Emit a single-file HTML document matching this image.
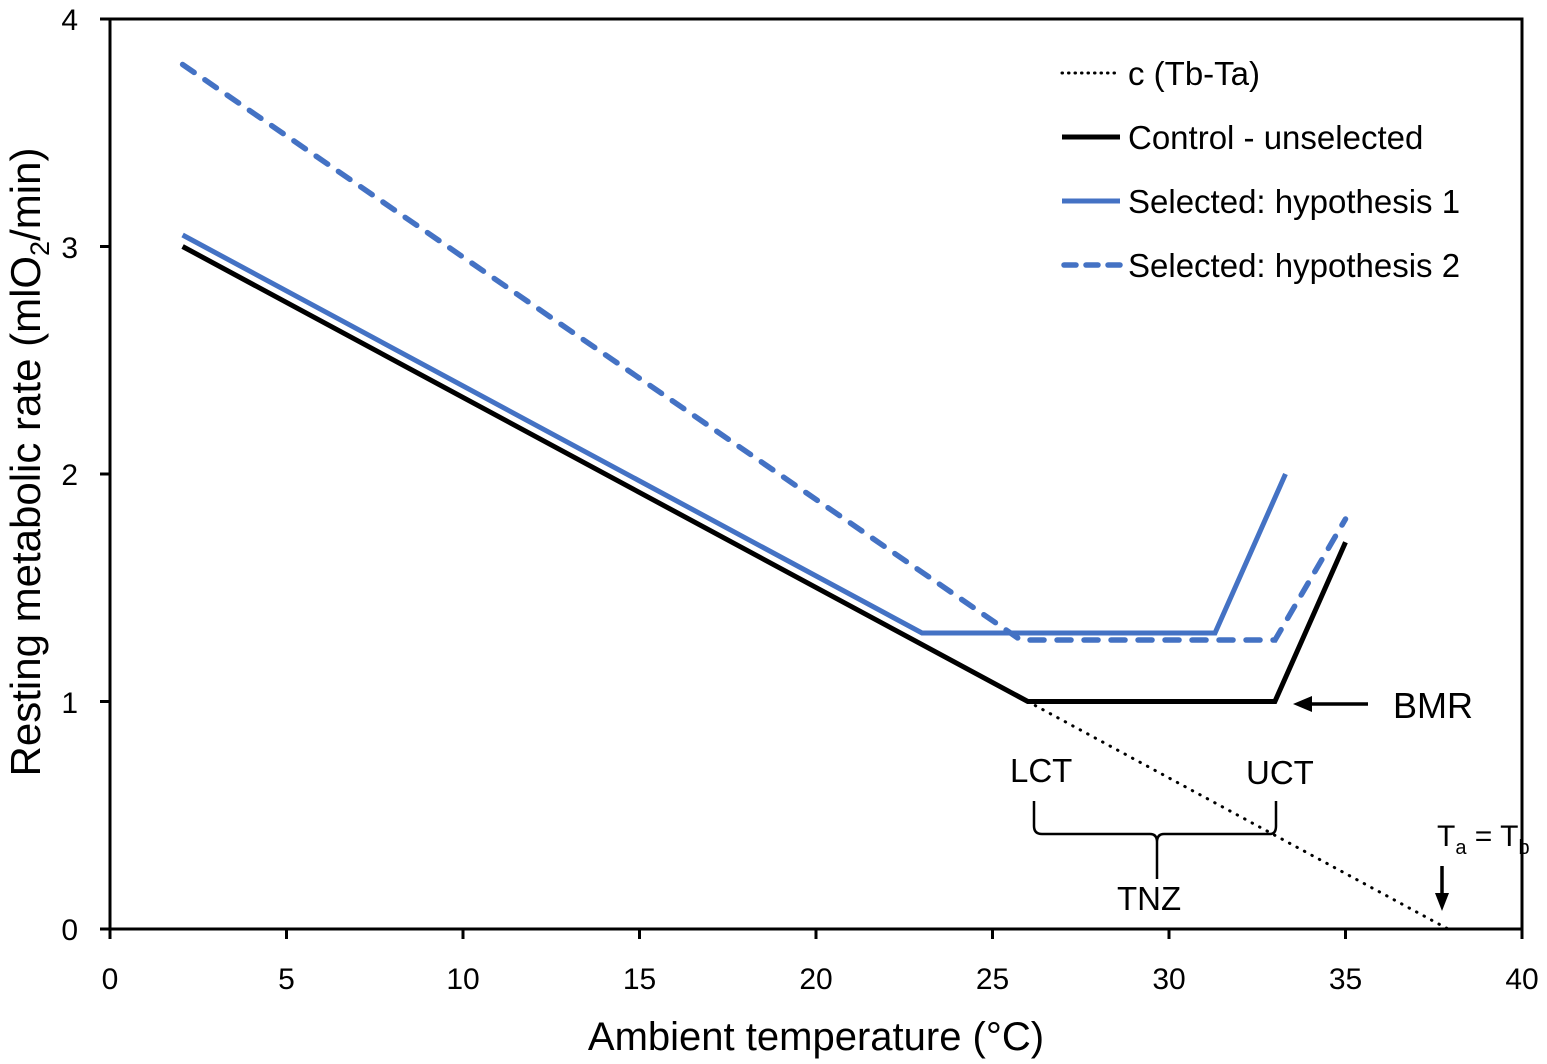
<!DOCTYPE html>
<html><head><meta charset="utf-8"><style>body{margin:0;background:#fff}svg{display:block}text{font-family:"Liberation Sans",sans-serif;fill:#000}</style></head>
<body>
<svg width="1547" height="1064" viewBox="0 0 1547 1064">
<rect x="110" y="19" width="1412" height="910" fill="none" stroke="#000" stroke-width="3"/>
<g stroke="#000" stroke-width="3">
<line x1="110" y1="929" x2="110" y2="939"/><line x1="286.5" y1="929" x2="286.5" y2="939"/><line x1="463" y1="929" x2="463" y2="939"/><line x1="639.5" y1="929" x2="639.5" y2="939"/><line x1="816" y1="929" x2="816" y2="939"/><line x1="992.5" y1="929" x2="992.5" y2="939"/><line x1="1169" y1="929" x2="1169" y2="939"/><line x1="1345.5" y1="929" x2="1345.5" y2="939"/><line x1="1522" y1="929" x2="1522" y2="939"/>
<line x1="100" y1="929" x2="110" y2="929"/><line x1="100" y1="701.5" x2="110" y2="701.5"/><line x1="100" y1="474" x2="110" y2="474"/><line x1="100" y1="246.5" x2="110" y2="246.5"/><line x1="100" y1="19" x2="110" y2="19"/>
</g>
<g font-size="30" text-anchor="middle">
<text x="110" y="989">0</text><text x="286.5" y="989">5</text><text x="463" y="989">10</text><text x="639.5" y="989">15</text><text x="816" y="989">20</text><text x="992.5" y="989">25</text><text x="1169" y="989">30</text><text x="1345.5" y="989">35</text><text x="1522" y="989">40</text>
</g>
<g font-size="30" text-anchor="end">
<text x="78" y="940">0</text><text x="78" y="713">1</text><text x="78" y="485">2</text><text x="78" y="258">3</text><text x="78" y="30">4</text>
</g>
<text x="816" y="1050" font-size="40" text-anchor="middle">Ambient temperature (°C)</text>
<text transform="translate(40,462) rotate(-90)" font-size="42" text-anchor="middle">Resting metabolic rate (mlO<tspan font-size="27" dy="9">2</tspan><tspan dy="-9">/min)</tspan></text>
<polyline points="1027.8,701.5 1448,929" fill="none" stroke="#000" stroke-width="3" stroke-dasharray="0.5,8" stroke-linecap="round"/>
<polyline points="182.6,64.5 1020.7,640 1275,640 1345.5,519" fill="none" stroke="#4472C4" stroke-width="5.5" stroke-dasharray="14,13" stroke-linecap="round"/>
<polyline points="182.6,235 922,633 1215,633 1285.5,474" fill="none" stroke="#4472C4" stroke-width="5"/>
<polyline points="182.6,246.5 1027.8,701.5 1274.9,701.5 1345.5,542.25" fill="none" stroke="#000" stroke-width="5"/>
<g font-size="33">
<line x1="1062" y1="73" x2="1120" y2="73" stroke="#000" stroke-width="3" stroke-dasharray="0.5,6" stroke-linecap="round"/>
<text x="1128" y="85">c (Tb-Ta)</text>
<line x1="1062" y1="137" x2="1120" y2="137" stroke="#000" stroke-width="5"/>
<text x="1128" y="149">Control - unselected</text>
<line x1="1062" y1="201" x2="1120" y2="201" stroke="#4472C4" stroke-width="5"/>
<text x="1128" y="213">Selected: hypothesis 1</text>
<line x1="1064" y1="265" x2="1120" y2="265" stroke="#4472C4" stroke-width="5.5" stroke-dasharray="12,10" stroke-linecap="round"/>
<text x="1128" y="277">Selected: hypothesis 2</text>
<text x="1393" y="718" font-size="36">BMR</text>
<text x="1010" y="782">LCT</text>
<text x="1246" y="784">UCT</text>
<text x="1117" y="910">TNZ</text>
<text x="1437" y="846" font-size="30">T<tspan font-size="20" dy="8">a</tspan><tspan dy="-8"> = T</tspan><tspan font-size="20" dy="8">b</tspan></text>
</g>
<line x1="1368" y1="704" x2="1310" y2="704" stroke="#000" stroke-width="3.5"/>
<polygon points="1293,704 1312,696 1312,712" fill="#000"/>
<line x1="1442" y1="866" x2="1442" y2="895" stroke="#000" stroke-width="3.5"/>
<polygon points="1442,911 1435,893 1449,893" fill="#000"/>
<path d="M1034,801 V826 Q1034,834 1042,834 H1150 Q1157,834 1157,842 V879 M1157,842 Q1157,834 1164,834 H1270 Q1276,834 1276,826 V801" fill="none" stroke="#000" stroke-width="2.5"/>
</svg>
</body></html>
